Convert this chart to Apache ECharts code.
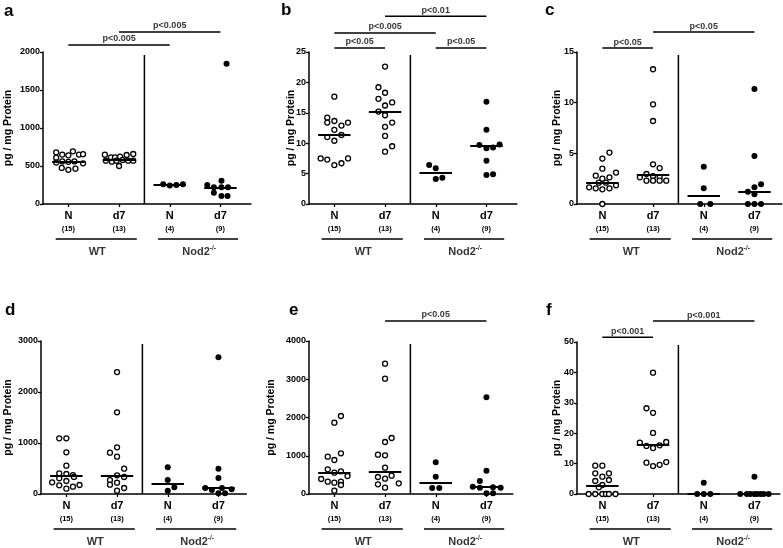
<!DOCTYPE html>
<html><head><meta charset="utf-8">
<script src="https://cdn.jsdelivr.net/npm/echarts@6/dist/echarts.min.js"></script>
<style>html,body{margin:0;padding:0;background:#fff}#c{width:783px;height:548px}</style>
</head><body><div id="c"></div>
<script>
// ---- categories / labels ----
const conditions = ['N', 'd7', 'N', 'd7'];
const counts = ['(15)', '(13)', '(4)', '(9)'];
const genotypes = ['WT', 'Nod2'];
const genoSup = ['', '-/-'];
const yLabel = 'pg / mg Protein';
const panelLetters = ['a', 'b', 'c', 'd', 'e', 'f'];
const yMaxes = [2000, 25, 15, 3000, 4000, 50];
const ySteps = [500, 5, 5, 1000, 1000, 10];

// ---- panel a ----
const a_WT_N = [680, 610, 650, 693, 650, 655, 640, 545, 560, 555, 560, 535, 475, 450, 465];
const a_WT_d7 = [649, 614, 614, 623, 645, 658, 570, 557, 570, 579, 570, 570, 500];
const a_KO_N = [259, 245, 250, 259];
const a_KO_d7 = [307, 250, 219, 219, 219, 149, 105, 105, 1847];
const a_median = [561, 585, 250, 219];
const a_sigText = ['p<0.005', 'p<0.005'];
const a_sigPairs = [[0, 2], [1, 3]];
const a_sigLevel = [2092, 2263];

// ---- panel b ----
const b_WT_N = [17.65, 14.2, 13.4, 13.65, 12.9, 13.4, 12.2, 11.35, 11.0, 10.4, 7.5, 7.3, 6.4, 6.7, 7.5];
const b_WT_d7 = [22.6, 19.2, 18.3, 17.3, 16.7, 16.2, 15.2, 14.6, 13.4, 12.7, 11.2, 9.5, 8.6];
const b_KO_N = [6.4, 5.9, 4.1, 4.3];
const b_KO_d7 = [16.8, 12.2, 9.7, 9.15, 9.3, 9.8, 7.1, 4.77, 4.9];
const b_median = [11.35, 15.2, 5.15, 9.5];
const b_sigText = ['p<0.05', 'p<0.005', 'p<0.01', 'p<0.05'];
const b_sigPairs = [[0, 1], [0, 2], [1, 3], [2, 3]];
const b_sigLevel = [25.66, 28.13, 30.9, 25.66];

// ---- panel c ----
const c_WT_N = [5.07, 4.48, 3.49, 2.8, 3.1, 2.63, 2.5, 1.65, 1.55, 2.1, 2.1, 1.45, 1.55, 1.85, 0];
const c_WT_d7 = [13.3, 9.84, 8.19, 3.92, 3.55, 2.96, 2.76, 2.63, 2.63, 2.3, 2.3, 2.3, 2.3];
const c_KO_N = [3.68, 1.55, 0, 0];
const c_KO_d7 = [11.35, 4.74, 1.94, 1.65, 1.22, 0.96, 0, 0, 0];
const c_median = [2.1, 2.93, 0.79, 1.22];
const c_sigText = ['p<0.05', 'p<0.05'];
const c_sigPairs = [[0, 1], [1, 3]];
const c_sigLevel = [15.39, 16.97];

// ---- panel d ----
const d_WT_N = [1091, 1091, 817, 555, 405, 392, 372, 307, 255, 229, 170, 144, 176, 104, 335];
const d_WT_d7 = [2391, 1601, 915, 810, 731, 496, 366, 333, 274, 183, 222, 118, 65];
const d_KO_N = [523, 274, 131, 65];
const d_KO_d7 = [2679, 496, 314, 118, 78, 118, 92, 13, 13];
const d_median = [366, 366, 196, 115];
const d_sigText = [];
const d_sigPairs = [];
const d_sigLevel = [];

// ---- panel e ----
const e_WT_N = [2039, 1865, 1063, 976, 889, 645, 558, 593, 471, 392, 322, 296, 322, 235, 87];
const e_WT_d7 = [3407, 3015, 1464, 1359, 1028, 1011, 688, 444, 401, 479, 253, 166, 279];
const e_KO_N = [828, 453, 157, 157];
const e_KO_d7 = [2527, 610, 340, 192, 166, 174, 166, 18, 18];
const e_median = [558, 584, 296, 200];
const e_sigText = ['p<0.05'];
const e_sigPairs = [[1, 3]];
const e_sigLevel = [4523];

// ---- panel f ----
const f_WT_N = [9.32, 9.32, 6.8, 6.8, 5.7, 4.28, 4.6, 2.96, 2.2, 0, 0, 0, 0, 0, 0];
const f_WT_d7 = [39.9, 28.2, 26.7, 20.1, 16.9, 17.1, 15.8, 15.1, 16.0, 10.3, 9.2, 9.6, 10.5];
const f_KO_N = [3.73, 0, 0, 0];
const f_KO_d7 = [5.7, 0, 0, 0, 0, 0, 0, 0, 0];
const f_median = [2.74, 16.1, 0, 0];
const f_sigText = ['p<0.001', 'p<0.001'];
const f_sigPairs = [[0, 1], [1, 3]];
const f_sigLevel = [51.6, 56.9];

// ---- horizontal scatter (jitter) of the dots, in category units (layout only) ----
const a_jit = [[-0.24,-0.24,-0.12,0.09,0.21,0.29,0,-0.24,-0.12,0,0.12,0.29,-0.13,0,0.14],
  [-0.28,-0.16,-0.08,0.02,0.15,0.28,-0.26,-0.14,-0.05,0.07,0.18,0.28,0],
  [-0.13,0,0.13,0.26], [0.02,-0.26,-0.13,0.02,0.15,-0.13,0.02,0.14,0.12]];
const b_jit = [[0,-0.14,-0.14,0,0.14,0.27,0,0.14,-0.14,0,-0.27,-0.14,0,0.14,0.27],
  [0,-0.13,0,-0.13,0.14,0,-0.13,0,0.14,0,0,0.14,0],
  [-0.13,0,0,0.13], [0,0,-0.14,0,0.13,0.26,0,0,0.13]];
const c_jit = [[0.14,0,0,-0.13,0.27,0.14,0,-0.26,-0.13,-0.07,0.07,0,0.14,0.27,0],
  [0,0,0,0,0.13,-0.13,0,-0.26,0.13,-0.13,0,0.13,0.26],
  [0,0,-0.07,0.13], [0,0,0.13,0,-0.13,0,-0.13,0,0.13]];
const d_jit = [[-0.14,0,0,0,-0.14,0,0.13,-0.14,0,-0.28,-0.14,0.13,0.26,0,0.15],
  [0,0,0,-0.14,0,0.14,0,0.14,-0.14,-0.14,0,0.14,0],
  [0,0,0.13,0], [0,0,0,-0.26,-0.13,0.07,0.26,0,0.13]];
const e_jit = [[0.13,0,0.13,-0.13,0,-0.13,0,0.13,0.26,-0.26,-0.13,0,0.13,0.13,0],
  [0,0,0.13,0,-0.14,0,0,-0.14,0,0.13,-0.14,0,0.27],
  [0,0,-0.07,0.07], [0,0,-0.13,-0.27,-0.13,0.13,0.28,0,0.13]];
const f_jit = [[-0.14,0,-0.14,0.13,0,-0.14,0.13,0,-0.07,-0.27,-0.14,0,0.07,0.13,0.26],
  [0,-0.13,0,0,-0.26,0.26,-0.13,0,0.13,-0.13,0,0.13,0.26],
  [0,-0.13,0,0.13], [0,-0.28,-0.15,-0.08,0,0.05,0.12,0.18,0.28]];

const panels = [
  {groups:[a_WT_N,a_WT_d7,a_KO_N,a_KO_d7], jit:a_jit, med:a_median, sigT:a_sigText, sigP:a_sigPairs, sigY:a_sigLevel},
  {groups:[b_WT_N,b_WT_d7,b_KO_N,b_KO_d7], jit:b_jit, med:b_median, sigT:b_sigText, sigP:b_sigPairs, sigY:b_sigLevel},
  {groups:[c_WT_N,c_WT_d7,c_KO_N,c_KO_d7], jit:c_jit, med:c_median, sigT:c_sigText, sigP:c_sigPairs, sigY:c_sigLevel},
  {groups:[d_WT_N,d_WT_d7,d_KO_N,d_KO_d7], jit:d_jit, med:d_median, sigT:d_sigText, sigP:d_sigPairs, sigY:d_sigLevel},
  {groups:[e_WT_N,e_WT_d7,e_KO_N,e_KO_d7], jit:e_jit, med:e_median, sigT:e_sigText, sigP:e_sigPairs, sigY:e_sigLevel},
  {groups:[f_WT_N,f_WT_d7,f_KO_N,f_KO_d7], jit:f_jit, med:f_median, sigT:f_sigText, sigP:f_sigPairs, sigY:f_sigLevel}
];

// ---- layout (pixels) ----
const UNIT = 50.7;
const layout = [
  {left:43, top:52, h:152, xMax:4.1, nameGap:29, lx:4, ly:13},
  {left:309, top:52, h:152, xMax:4.1, nameGap:12, lx:281, ly:12},
  {left:577, top:52, h:152, xMax:4.04, nameGap:14, lx:545, ly:12},
  {left:41, top:341, h:153, xMax:4.05, nameGap:27, lx:5, ly:312},
  {left:309, top:341, h:153, xMax:4.02, nameGap:32, lx:289, ly:312},
  {left:577, top:342, h:152, xMax:4.0, nameGap:14, lx:546, ly:312}
];
const FONT = "'Liberation Sans', Arial, Helvetica, sans-serif";
const BLACK = '#000';
const MHW = 0.32; // median half width (category units)
const catPos = [0.5, 1.5, 2.5, 3.5];
const underline = [[0.25, 1.85], [2.27, 3.85]];

const grid = [], xAxis = [], yAxis = [], series = [], graphic = [];

panels.forEach((P, i) => {
  const L = layout[i];
  const yMax = yMaxes[i];
  const px2val = px => px * yMax / L.h;
  grid.push({left: L.left, top: L.top, height: L.h, width: UNIT * L.xMax});
  xAxis.push({
    type: 'value', gridIndex: i, min: 0, max: L.xMax,
    splitLine: {show: false},
    axisLine: {show: true, onZero: false, lineStyle: {color: BLACK, width: 1.5}},
    axisTick: {show: true, customValues: catPos, length: 3, lineStyle: {color: BLACK, width: 1.3}},
    axisLabel: {
      show: true, customValues: catPos, margin: 5, color: BLACK, fontFamily: FONT,
      formatter: v => { const k = Math.floor(v); return '{n|' + conditions[k] + '}\n{c|' + counts[k] + '}'; },
      rich: {
        n: {fontSize: 11, fontWeight: 'bold', lineHeight: 14, color: BLACK, fontFamily: FONT},
        c: {fontSize: 7.5, fontWeight: 'bold', lineHeight: 11, color: BLACK, fontFamily: FONT}
      }
    }
  });
  yAxis.push({
    type: 'value', gridIndex: i, min: 0, max: yMax, interval: ySteps[i],
    name: yLabel, nameLocation: 'middle', nameGap: L.nameGap, nameRotate: 90, nameMoveOverlap: false,
    nameTextStyle: {fontSize: 10.5, fontWeight: 'bold', color: BLACK, fontFamily: FONT},
    splitLine: {show: false},
    axisLine: {show: true, lineStyle: {color: BLACK, width: 1.5}},
    axisTick: {show: true, length: 3, lineStyle: {color: BLACK, width: 1.3}},
    axisLabel: {fontSize: 9, fontWeight: 'bold', color: BLACK, margin: 3, fontFamily: FONT,
      formatter: v => String(v)}
  });

  // data points
  const wt = [], ko = [];
  P.groups.forEach((vals, g) => vals.forEach((v, k) => (g < 2 ? wt : ko).push([catPos[g] + P.jit[g][k], v])));
  const medLines = gs => gs.map(g => [{coord: [catPos[g] - MHW, P.med[g]]}, {coord: [catPos[g] + MHW, P.med[g]]}]);
  series.push({
    type: 'scatter', xAxisIndex: i, yAxisIndex: i, data: wt, symbol: 'circle', symbolSize: 5,
    itemStyle: {color: '#fff', borderColor: BLACK, borderWidth: 1.3, opacity: 1}, clip: false, silent: true, z: 3,
    markLine: {silent: true, symbol: ['none', 'none'], label: {show: false}, z: 4,
      lineStyle: {color: BLACK, width: 2, type: 'solid'}, data: medLines([0, 1])}
  });
  series.push({
    type: 'scatter', xAxisIndex: i, yAxisIndex: i, data: ko, symbol: 'circle', symbolSize: 6,
    itemStyle: {color: BLACK, opacity: 1}, clip: false, silent: true, z: 3,
    markLine: {silent: true, symbol: ['none', 'none'], label: {show: false}, z: 4,
      lineStyle: {color: BLACK, width: 2, type: 'solid'}, data: medLines([2, 3])}
  });
  // divider between genotypes
  series.push({type: 'line', xAxisIndex: i, yAxisIndex: i, data: [[2, 0], [2, yMax * 0.98]],
    symbol: 'none', lineStyle: {color: BLACK, width: 1.5}, clip: false, silent: true});
  // significance bars + texts
  P.sigT.forEach((t, s) => {
    const [g1, g2] = P.sigP[s];
    const y = P.sigY[s];
    series.push({type: 'line', xAxisIndex: i, yAxisIndex: i, data: [[catPos[g1], y], [catPos[g2], y]],
      symbol: 'none', lineStyle: {color: BLACK, width: 1.5}, clip: false, silent: true});
    series.push({type: 'scatter', xAxisIndex: i, yAxisIndex: i, data: [[(catPos[g1] + catPos[g2]) / 2, y]],
      symbolSize: 0, clip: false, silent: true,
      label: {show: true, position: 'inside', offset: [0, -6], formatter: t,
        fontSize: 9, fontWeight: 'bold', color: BLACK, fontFamily: FONT}});
  });
  // genotype underline + label
  const yU = -px2val(35);
  underline.forEach((u, g) => {
    series.push({type: 'line', xAxisIndex: i, yAxisIndex: i, data: [[u[0], yU], [u[1], yU]],
      symbol: 'none', lineStyle: {color: BLACK, width: 1.5}, clip: false, silent: true});
    series.push({type: 'scatter', xAxisIndex: i, yAxisIndex: i, data: [[(u[0] + u[1]) / 2 + 0.02, 0]],
      symbolSize: 0, clip: false, silent: true,
      label: {show: true, position: 'inside', offset: [0, 48],
        formatter: '{g|' + genotypes[g] + '}' + (genoSup[g] ? '{s|' + genoSup[g] + '}' : ''),
        rich: {
          g: {fontSize: 11, fontWeight: 'bold', color: BLACK, fontFamily: FONT, lineHeight: 14},
          s: {fontSize: 6.5, fontWeight: 'bold', color: BLACK, fontFamily: FONT, verticalAlign: 'top', lineHeight: 8}
        }}});
  });
  // panel letter
  graphic.push({type: 'text', left: L.lx, top: L.ly - 10,
    style: {text: panelLetters[i], fontSize: 17, fontWeight: 'bold', fill: BLACK, fontFamily: FONT}});
});

const chart = echarts.init(document.getElementById('c'), null, {renderer: 'canvas'});
chart.setOption({
  backgroundColor: '#fff',
  animation: false,
  grid, xAxis, yAxis, series, graphic
});
</script></body></html>
